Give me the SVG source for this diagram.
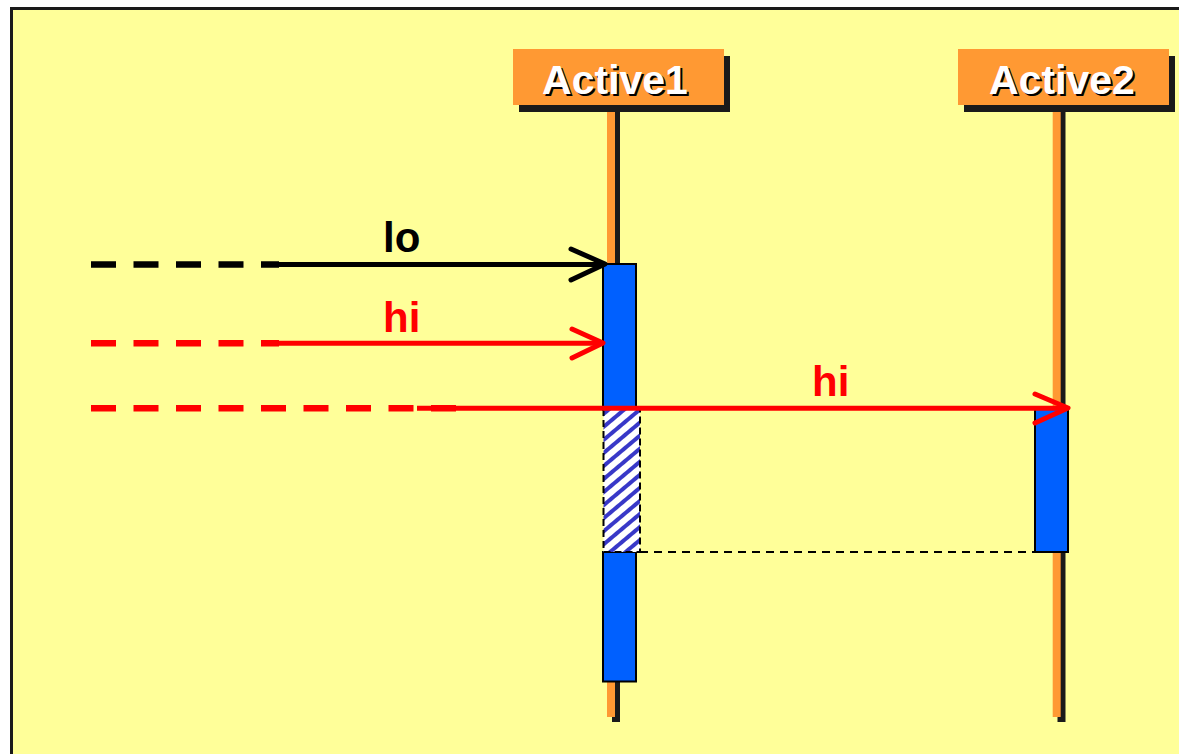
<svg xmlns="http://www.w3.org/2000/svg" width="1179" height="754" viewBox="0 0 1179 754">
<style>
.hdr{font-family:"Liberation Sans",Arial,sans-serif;font-weight:bold;font-size:41px;text-anchor:middle}
.lbl{font-family:"Liberation Sans",Arial,sans-serif;font-weight:bold;font-size:42px}
.box{fill:#FF9933}
.shadow{fill:#1a1a1a}
.life{stroke:#FF9933;stroke-width:8}
.lifesh{stroke:#1a1a1a;stroke-width:8}
.act{fill:#0060FF;stroke:#000;stroke-width:2}
.dashed{stroke-width:6.5;stroke-dasharray:25 17.5;fill:none}
.solid{stroke-width:5;fill:none}
.head{stroke-width:5;fill:none;stroke-linecap:round;stroke-linejoin:round}
</style>
<defs>
<pattern id="hatch" patternUnits="userSpaceOnUse" width="10" height="10" patternTransform="rotate(-40)">
<rect width="10" height="10" fill="#fff"/>
<line x1="-1" y1="5" x2="11" y2="5" stroke="#3838C8" stroke-width="4"/>
</pattern>
</defs>
<rect x="11.5" y="8.5" width="1200" height="800" fill="#FFFF99" stroke="#1a1a1a" stroke-width="3"/>
<g id="active1">
<line class="lifesh" x1="616" y1="110" x2="616" y2="722"/>
<line class="life" x1="611" y1="105" x2="611" y2="717"/>
<rect class="shadow" x="519" y="56" width="211" height="56"/>
<rect class="box" x="513" y="49" width="211" height="56"/>
<text class="hdr" x="617" y="95.5" fill="#000">Active1</text>
<text class="hdr" x="615" y="93.5" fill="#fff">Active1</text>
</g>
<g id="active2">
<line class="lifesh" x1="1061.5" y1="110" x2="1061.5" y2="722"/>
<line class="life" x1="1056.7" y1="105" x2="1056.7" y2="717"/>
<rect class="shadow" x="964" y="56" width="211" height="56"/>
<rect class="box" x="958" y="49" width="211" height="56"/>
<text class="hdr" x="1064" y="95.5" fill="#000">Active2</text>
<text class="hdr" x="1062" y="93.5" fill="#fff">Active2</text>
</g>
<g id="activation1">
<rect class="act" x="603" y="264" width="33" height="146"/>
<rect class="act" x="603" y="552" width="33" height="129.5"/>
<rect x="603.5" y="409" width="36.5" height="143" fill="url(#hatch)" stroke="#000" stroke-width="2" stroke-dasharray="7 4"/>
</g>
<g id="activation2">
<rect class="act" x="1035" y="409" width="33" height="143"/>
</g>
<g id="connectors">
<line x1="640" y1="552" x2="1035" y2="552" stroke="#000" stroke-width="2" stroke-dasharray="8 6"/>
<line class="dashed" x1="91" y1="264.5" x2="279" y2="264.5" stroke="#000"/>
<line class="solid" x1="279" y1="264.5" x2="603" y2="264.5" stroke="#000"/>
<polyline class="head" points="571,249 605,264 571,280" stroke="#000"/>
<line class="dashed" x1="91" y1="343.3" x2="279" y2="343.3" stroke="#FF0000"/>
<line class="solid" x1="279" y1="343.3" x2="601" y2="343.3" stroke="#FF0000"/>
<polyline class="head" points="572,329 603,343 572,358" stroke="#FF0000"/>
<line class="dashed" x1="91" y1="408.3" x2="456" y2="408.3" stroke="#FF0000"/>
<line class="solid" x1="417" y1="408.3" x2="1066" y2="408.3" stroke="#FF0000"/>
<polyline class="head" points="1035,394 1068,408 1035,423" stroke="#FF0000"/>
<text class="lbl" x="383" y="252" fill="#000">lo</text>
<text class="lbl" x="383" y="332" fill="#FF0000">hi</text>
<text class="lbl" x="812" y="396" fill="#FF0000">hi</text>
</g>
</svg>
